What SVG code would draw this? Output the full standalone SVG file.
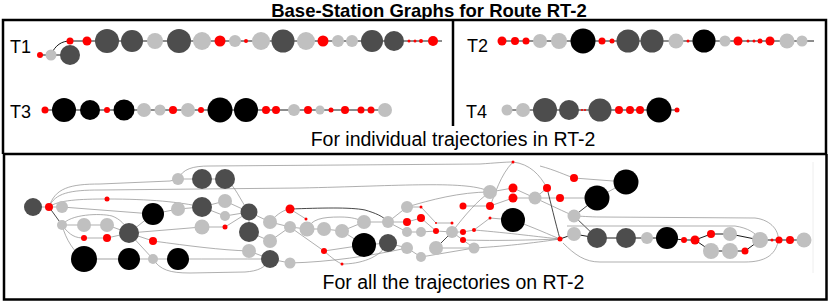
<svg xmlns="http://www.w3.org/2000/svg" width="830" height="302" viewBox="0 0 830 302">
<style>
.r{fill:#ff0000}.d{fill:#4d4d4d}.l{fill:#c0c0c0}.b{fill:#000}
.frame{fill:none;stroke:#000;stroke-width:2.5}
.tl{fill:none;stroke:#000;stroke-width:0.9}
.e{fill:none;stroke:#8c8c8c;stroke-width:0.7}
.ed{fill:none;stroke:#333;stroke-width:0.9}
.lab{font-family:"Liberation Sans",Arial,sans-serif;fill:#000}
</style>
<rect x="0" y="0" width="830" height="302" fill="#fff"/>
<g id="frames">
<path class="frame" d="M3,154 V20 H826 V154"/>
<path class="frame" d="M453,20 V126"/>
<path class="frame" d="M3,154 H826"/>
<path class="frame" d="M4,154 V299.5 H826.5 V154"/>
<line x1="813" y1="162" x2="813" y2="273" stroke="#eee" stroke-width="1"/>
</g>
<g id="texts" class="lab">
<text x="429" y="16.5" font-size="18.5" font-weight="bold" text-anchor="middle">Base-Station Graphs for Route RT-2</text>
<text x="10" y="53" font-size="18">T1</text>
<text x="467" y="52" font-size="18">T2</text>
<text x="10" y="118" font-size="18">T3</text>
<text x="466" y="118" font-size="18">T4</text>
<text x="453" y="146" font-size="19.5" text-anchor="middle">For individual trajectories in RT-2</text>
<text x="453.5" y="289" font-size="19.5" text-anchor="middle">For all the trajectories on RT-2</text>
</g>
<g id="connectors">
<path class="tl" d="M40,55 H70 M51,55 C55,45 62,41 70,41 H442"/>
<path class="tl" d="M502,41 H814"/>
<path class="tl" d="M45,110 H385"/>
<path class="tl" d="M507,110 H677"/>
<path class="e" d="M33,207 L62,207"/>
<path class="ed" d="M49,207 L62,225"/>
<path class="e" d="M62,225 L84,225 L107,225 L129,233"/>
<path class="e" d="M62,225 C70,236 76,238 84,238 L107,238 L129,233"/>
<path class="e" d="M62,225 C66,240 74,252 84,259"/>
<path class="e" d="M62,225 C70,214 100,213 112,216 C120,219 126,225 129,233"/>
<path class="e" d="M49,207 C55,188 70,184 100,184 L170,181 L178,179"/>
<path class="e" d="M49,207 C58,200 80,199 107,199 C150,199 180,202 202,207"/>
<path class="e" d="M49,207 C55,193 70,190 100,190 L300,188 C400,186 470,180 490,192"/>
<path class="e" d="M62,207 L153,214 L178,209 L202,207"/>
<path class="e" d="M129,233 L153,214"/>
<path class="e" d="M129,233 L153,241 C190,246 220,250 249,251"/>
<path class="e" d="M129,233 L153,259"/>
<path d="M84,259 L129,259" stroke="#d0d0d0" stroke-width="2" fill="none"/>
<path class="e" d="M129,259 L178,259 C210,259 240,259 270,259"/>
<path class="e" d="M153,259 C160,270 170,273 190,273 L245,272 C258,271 265,268 270,259"/>
<path class="e" d="M129,233 L202,227 L225,227 L249,212"/>
<path class="e" d="M178,179 L225,179 C235,185 240,200 249,212"/>
<path class="e" d="M202,207 L225,201 L249,212 M202,207 L225,216 L249,212"/>
<path class="e" d="M178,179 C183,169 192,166 210,166 L480,164 C495,163 505,162 513,162 C530,164 540,175 547,188"/>
<path class="e" d="M249,212 L270,222 M249,232 L270,241 M249,251 L270,259 M249,212 L249,232"/>
<path class="e" d="M270,222 L290,227 L307,229 L324,229 L342,231 L364,222 L388,222"/>
<path class="e" d="M270,241 L290,227 M270,259 L290,263"/>
<path class="ed" d="M290,209 C320,208 350,207 365,210 C375,213 383,216 388,222"/>
<path class="e" d="M270,222 C278,213 284,210 290,209 M290,209 L306,219"/>
<path class="e" d="M290,227 L324,251 L364,245 M342,231 L364,245 L388,243"/>
<path class="e" d="M290,263 C330,262 370,256 407,248"/>
<path class="e" d="M307,229 C312,219 322,217 340,217 C352,217 358,219 364,222"/>
<path class="e" d="M324,251 C332,258 337,262 342,264 C360,264 380,258 388,243"/>
<path class="e" d="M388,222 L407,207 M388,222 L407,222 M388,222 L407,232 L421,232 L436,231 L452,232 L463,232 L474,230"/>
<path class="e" d="M388,243 L407,248 L421,257 M407,207 L421,207 L436,223 L452,223"/>
<path class="e" d="M407,207 C430,200 460,192 490,192"/>
<path class="e" d="M407,222 L421,218 L436,231"/>
<path class="ed" d="M436,248 L452,232"/>
<path class="e" d="M452,232 L463,240 L474,248 M436,248 L474,248 M421,257 L474,248"/>
<path class="e" d="M463,206 L490,206 L513,198 M490,192 L513,188"/>
<path class="e" d="M474,230 L490,218 L513,220"/>
<path class="e" d="M452,232 C465,215 478,200 490,192"/>
<path class="e" d="M513,162 C500,175 495,195 490,206"/>
<path class="e" d="M513,188 L535,198 L547,188 M513,198 L535,198 L560,198 L597,198"/>
<path class="e" d="M535,198 C550,205 565,212 574,216"/>
<path class="ed" d="M547,188 C550,200 556,225 560,239"/>
<path class="e" d="M540,166 C555,170 565,175 574,178 L626,182 M597,198 L626,182"/>
<path class="ed" d="M597,198 L574,216 L597,238"/>
<path class="e" d="M474,230 C510,233 540,237 560,239 M463,240 C500,241 530,240 560,239 M474,248 C510,246 540,242 560,239 M513,220 C535,228 550,235 560,239"/>
<path class="tl" d="M560,239 L574,234 L597,238 L626,238 L647,238 L667,238 L684,240 L695,240 L711,234 L730,234 L760,240 L804,240"/>
<path class="tl" d="M695,240 L711,251 L730,251 L745,251 L760,240"/>
<path class="e" d="M574,216 C580,216 590,217 600,217 L755,218 C772,220 780,232 778,242 C775,255 765,262 745,262 L600,262 C585,262 575,255 563,243"/>
<path class="e" d="M567,226 L735,226 C748,228 756,233 760,240"/>
</g>
<g id="nodesT1">
<g id="t1n1"><circle class="r" cx="40" cy="55" r="3"/></g>
<g id="t1n2"><circle class="l" cx="51" cy="55" r="5.5"/></g>
<g id="t1n3"><circle class="d" cx="70" cy="55" r="10"/></g>
<g id="t1n4"><circle class="r" cx="70" cy="41" r="3.5"/></g>
<g id="t1n5"><circle class="r" cx="87" cy="41" r="4.5"/></g>
<g id="t1n6"><circle class="d" cx="107" cy="41" r="12"/></g>
<g id="t1n7"><circle class="d" cx="132" cy="41" r="11"/></g>
<g id="t1n8"><circle class="l" cx="155" cy="41" r="8"/></g>
<g id="t1n9"><circle class="d" cx="179" cy="41" r="12"/></g>
<g id="t1n10"><circle class="l" cx="202" cy="41" r="9"/></g>
<g id="t1n11"><circle class="r" cx="220" cy="41" r="5.5"/></g>
<g id="t1n12"><circle class="l" cx="235" cy="41" r="6"/></g>
<g id="t1n13"><circle class="r" cx="246" cy="41" r="2"/></g>
<g id="t1n14"><circle class="l" cx="261" cy="41" r="9"/></g>
<g id="t1n15"><circle class="d" cx="283" cy="41" r="11.5"/></g>
<g id="t1n16"><circle class="l" cx="306" cy="41" r="9"/></g>
<g id="t1n17"><circle class="r" cx="323" cy="41" r="5.5"/></g>
<g id="t1n18"><circle class="l" cx="338" cy="41" r="6"/></g>
<g id="t1n19"><circle class="l" cx="352" cy="41" r="6"/></g>
<g id="t1n20"><circle class="d" cx="372" cy="41" r="11"/></g>
<g id="t1n21"><circle class="d" cx="394" cy="41" r="10"/></g>
<g id="t1n22"><circle class="r" cx="409" cy="41" r="1.5"/></g>
<g id="t1n23"><circle class="r" cx="415" cy="41" r="1.5"/></g>
<g id="t1n24"><circle class="r" cx="421" cy="41" r="2"/></g>
<g id="t1n25"><circle class="r" cx="433" cy="41" r="5"/></g>
</g>
<g id="nodesT2">
<g id="t2n1"><circle class="r" cx="502" cy="41" r="4.5"/></g>
<g id="t2n2"><circle class="r" cx="515" cy="41" r="4"/></g>
<g id="t2n3"><circle class="r" cx="526" cy="41" r="3.5"/></g>
<g id="t2n4"><circle class="l" cx="540" cy="41" r="7"/></g>
<g id="t2n5"><circle class="l" cx="559" cy="41" r="8"/></g>
<g id="t2n6"><circle class="b" cx="583" cy="41" r="12.5"/></g>
<g id="t2n7"><circle class="r" cx="602" cy="41" r="3.5"/></g>
<g id="t2n8"><circle class="r" cx="612" cy="41" r="2.5"/></g>
<g id="t2n9"><circle class="d" cx="628" cy="41" r="11.5"/></g>
<g id="t2n10"><circle class="d" cx="652" cy="41" r="11.5"/></g>
<g id="t2n11"><circle class="l" cx="676" cy="41" r="7.5"/></g>
<g id="t2n12"><circle class="r" cx="688" cy="41" r="1.5"/></g>
<g id="t2n13"><circle class="b" cx="704" cy="41" r="11.5"/></g>
<g id="t2n14"><circle class="l" cx="725" cy="41" r="5.5"/></g>
<g id="t2n15"><circle class="r" cx="738" cy="41" r="4.5"/></g>
<g id="t2n16"><circle class="r" cx="748" cy="41" r="1.5"/></g>
<g id="t2n17"><circle class="r" cx="754" cy="41" r="1.5"/></g>
<g id="t2n18"><circle class="r" cx="760" cy="41" r="2.5"/></g>
<g id="t2n19"><circle class="r" cx="770" cy="41" r="4.5"/></g>
<g id="t2n20"><circle class="l" cx="787" cy="41" r="7.5"/></g>
<g id="t2n21"><circle class="l" cx="802" cy="41" r="5.5"/></g>
</g>
<g id="nodesT3">
<g id="t3n1"><circle class="r" cx="45" cy="110" r="3.5"/></g>
<g id="t3n2"><circle class="b" cx="64" cy="110" r="12"/></g>
<g id="t3n3"><circle class="b" cx="90" cy="110" r="10"/></g>
<g id="t3n4"><circle class="r" cx="107" cy="110" r="3"/></g>
<g id="t3n5"><circle class="b" cx="124" cy="110" r="10.5"/></g>
<g id="t3n6"><circle class="l" cx="144" cy="110" r="7"/></g>
<g id="t3n7"><circle class="l" cx="160" cy="110" r="5.5"/></g>
<g id="t3n8"><circle class="r" cx="173" cy="110" r="4"/></g>
<g id="t3n9"><circle class="l" cx="188" cy="110" r="7"/></g>
<g id="t3n10"><circle class="r" cx="201" cy="110" r="3"/></g>
<g id="t3n11"><circle class="b" cx="220" cy="110" r="12.5"/></g>
<g id="t3n12"><circle class="b" cx="246" cy="110" r="12"/></g>
<g id="t3n13"><circle class="r" cx="266" cy="110" r="4"/></g>
<g id="t3n14"><circle class="r" cx="276" cy="110" r="4"/></g>
<g id="t3n15"><circle class="l" cx="294" cy="110" r="6"/></g>
<g id="t3n16"><circle class="r" cx="308" cy="110" r="4"/></g>
<g id="t3n17"><circle class="l" cx="320" cy="110" r="4.5"/></g>
<g id="t3n18"><circle class="r" cx="331" cy="110" r="2.5"/></g>
<g id="t3n19"><circle class="r" cx="345" cy="110" r="4"/></g>
<g id="t3n20"><circle class="r" cx="361" cy="110" r="3.5"/></g>
<g id="t3n21"><circle class="r" cx="371" cy="110" r="3.5"/></g>
<g id="t3n22"><circle class="l" cx="385" cy="110" r="7"/></g>
</g>
<g id="nodesT4">
<g id="t4n1"><circle class="l" cx="507" cy="110" r="5.5"/></g>
<g id="t4n2"><circle class="l" cx="523" cy="110" r="7"/></g>
<g id="t4n3"><circle class="d" cx="545" cy="110" r="12"/></g>
<g id="t4n4"><circle class="d" cx="569" cy="110" r="10"/></g>
<g id="t4n5"><circle class="r" cx="582" cy="110" r="1"/></g>
<g id="t4n6"><circle class="r" cx="585" cy="110" r="1"/></g>
<g id="t4n7"><circle class="d" cx="600" cy="110" r="11.5"/></g>
<g id="t4n8"><circle class="r" cx="619" cy="110" r="4"/></g>
<g id="t4n9"><circle class="r" cx="630" cy="110" r="4"/></g>
<g id="t4n10"><circle class="r" cx="640" cy="110" r="4"/></g>
<g id="t4n11"><circle class="b" cx="659" cy="110" r="12.5"/></g>
<g id="t4n12"><circle class="r" cx="677" cy="110" r="2.5"/></g>
</g>
<g id="nodesAll">
<g id="a1"><circle class="d" cx="33" cy="207" r="9"/></g>
<g id="a2"><circle class="r" cx="49" cy="207" r="4"/></g>
<g id="a3"><circle class="l" cx="62" cy="207" r="6"/></g>
<g id="a4"><circle class="l" cx="62" cy="225" r="5"/></g>
<g id="a5"><circle class="l" cx="84" cy="225" r="7"/></g>
<g id="a6"><circle class="l" cx="107" cy="225" r="7"/></g>
<g id="a7"><circle class="r" cx="84" cy="238" r="3"/></g>
<g id="a8"><circle class="r" cx="107" cy="238" r="4"/></g>
<g id="a9"><circle class="d" cx="129" cy="233" r="10"/></g>
<g id="a10"><circle class="r" cx="107" cy="199" r="2.5"/></g>
<g id="a11"><circle class="b" cx="153" cy="214" r="11"/></g>
<g id="a12"><circle class="r" cx="153" cy="241" r="4"/></g>
<g id="a13"><circle class="b" cx="84" cy="259" r="13"/></g>
<g id="a14"><circle class="b" cx="129" cy="259" r="11"/></g>
<g id="a15"><circle class="l" cx="153" cy="259" r="5"/></g>
<g id="a16"><circle class="b" cx="178" cy="259" r="11"/></g>
<g id="a17"><circle class="l" cx="178" cy="179" r="6"/></g>
<g id="a18"><circle class="d" cx="202" cy="179" r="10"/></g>
<g id="a19"><circle class="d" cx="225" cy="179" r="10"/></g>
<g id="a20"><circle class="l" cx="178" cy="209" r="7"/></g>
<g id="a21"><circle class="d" cx="202" cy="207" r="10"/></g>
<g id="a22"><circle class="l" cx="225" cy="201" r="7"/></g>
<g id="a23"><circle class="l" cx="225" cy="216" r="5"/></g>
<g id="a24"><circle class="l" cx="202" cy="227" r="7.5"/></g>
<g id="a25"><circle class="r" cx="225" cy="227" r="2.5"/></g>
<g id="a26"><circle class="d" cx="249" cy="212" r="8.5"/></g>
<g id="a27"><circle class="d" cx="249" cy="232" r="10"/></g>
<g id="a28"><circle class="l" cx="249" cy="251" r="7"/></g>
<g id="a29"><circle class="d" cx="270" cy="259" r="9"/></g>
<g id="a30"><circle class="l" cx="270" cy="222" r="7"/></g>
<g id="a31"><circle class="l" cx="270" cy="241" r="7"/></g>
<g id="a32"><circle class="l" cx="290" cy="227" r="6"/></g>
<g id="a33"><circle class="r" cx="290" cy="209" r="4.5"/></g>
<g id="a34"><circle class="r" cx="306" cy="219" r="1.5"/></g>
<g id="a35"><circle class="l" cx="307" cy="229" r="7.5"/></g>
<g id="a36"><circle class="l" cx="324" cy="229" r="7"/></g>
<g id="a37"><circle class="l" cx="342" cy="231" r="7"/></g>
<g id="a38"><circle class="l" cx="364" cy="222" r="7"/></g>
<g id="a39"><circle class="l" cx="388" cy="222" r="6"/></g>
<g id="a40"><circle class="b" cx="364" cy="245" r="12"/></g>
<g id="a41"><circle class="d" cx="388" cy="243" r="9"/></g>
<g id="a42"><circle class="r" cx="324" cy="251" r="3"/></g>
<g id="a43"><circle class="r" cx="342" cy="264" r="1.5"/></g>
<g id="a44"><circle class="l" cx="290" cy="263" r="5.5"/></g>
<g id="a45"><circle class="l" cx="407" cy="207" r="6"/></g>
<g id="a46"><circle class="r" cx="421" cy="207" r="1.5"/></g>
<g id="a47"><circle class="r" cx="407" cy="222" r="4"/></g>
<g id="a48"><circle class="r" cx="421" cy="218" r="4"/></g>
<g id="a49"><circle class="l" cx="407" cy="232" r="5"/></g>
<g id="a50"><circle class="l" cx="421" cy="232" r="5"/></g>
<g id="a51"><circle class="l" cx="407" cy="248" r="6"/></g>
<g id="a52"><circle class="l" cx="421" cy="257" r="5"/></g>
<g id="a53"><circle class="r" cx="436" cy="231" r="3"/></g>
<g id="a54"><circle class="r" cx="436" cy="223" r="1"/></g>
<g id="a55"><circle class="l" cx="436" cy="248" r="7"/></g>
<g id="a56"><circle class="l" cx="452" cy="232" r="6"/></g>
<g id="a57"><circle class="r" cx="452" cy="223" r="1.5"/></g>
<g id="a58"><circle class="r" cx="463" cy="232" r="3"/></g>
<g id="a59"><circle class="r" cx="463" cy="240" r="3"/></g>
<g id="a60"><circle class="r" cx="463" cy="206" r="3.5"/></g>
<g id="a61"><circle class="r" cx="474" cy="230" r="2"/></g>
<g id="a62"><circle class="l" cx="474" cy="248" r="5.5"/></g>
<g id="a63"><circle class="l" cx="490" cy="192" r="7"/></g>
<g id="a64"><circle class="r" cx="490" cy="206" r="4"/></g>
<g id="a65"><circle class="r" cx="490" cy="218" r="1.5"/></g>
<g id="a66"><circle class="r" cx="513" cy="162" r="1.5"/></g>
<g id="a67"><circle class="r" cx="513" cy="188" r="4.5"/></g>
<g id="a68"><circle class="r" cx="513" cy="198" r="4.5"/></g>
<g id="a69"><circle class="b" cx="513" cy="220" r="12"/></g>
<g id="a70"><circle class="l" cx="535" cy="198" r="6.5"/></g>
<g id="a71"><circle class="r" cx="547" cy="188" r="4"/></g>
<g id="a72"><circle class="r" cx="574" cy="178" r="4"/></g>
<g id="a73"><circle class="b" cx="626" cy="182" r="12.5"/></g>
<g id="a74"><circle class="r" cx="560" cy="198" r="4"/></g>
<g id="a75"><circle class="b" cx="597" cy="198" r="12.5"/></g>
<g id="a76"><circle class="l" cx="574" cy="216" r="6.5"/></g>
<g id="a77"><circle class="l" cx="574" cy="234" r="7"/></g>
<g id="a78"><circle class="r" cx="560" cy="239" r="2.5"/></g>
<g id="a79"><circle class="d" cx="597" cy="238" r="10"/></g>
<g id="a80"><circle class="d" cx="626" cy="238" r="10"/></g>
<g id="a81"><circle class="l" cx="647" cy="238" r="6"/></g>
<g id="a82"><circle class="b" cx="667" cy="238" r="11"/></g>
<g id="a83"><circle class="r" cx="684" cy="240" r="3"/></g>
<g id="a84"><circle class="r" cx="695" cy="240" r="4.5"/></g>
<g id="a85"><circle class="r" cx="711" cy="234" r="4"/></g>
<g id="a86"><circle class="l" cx="730" cy="234" r="7"/></g>
<g id="a87"><circle class="l" cx="711" cy="251" r="8"/></g>
<g id="a88"><circle class="l" cx="730" cy="251" r="8"/></g>
<g id="a89"><circle class="r" cx="745" cy="251" r="3.5"/></g>
<g id="a90"><circle class="l" cx="760" cy="240" r="8"/></g>
<g id="a91"><circle class="r" cx="772" cy="240" r="1.5"/></g>
<g id="a92"><circle class="r" cx="779" cy="240" r="3.5"/></g>
<g id="a93"><circle class="r" cx="790" cy="240" r="4"/></g>
<g id="a94"><circle class="l" cx="804" cy="240" r="7.5"/></g>
</g>
</svg>
